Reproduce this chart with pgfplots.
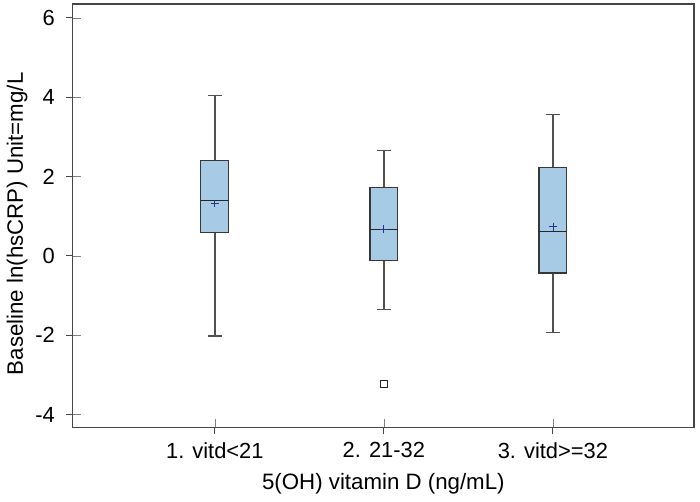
\documentclass[border=0pt]{standalone}
\usepackage{pgfplots}
\pgfplotsset{compat=1.18}
\usepgfplotslibrary{statistics}
\usepackage{fontspec}
\setmainfont{Liberation Sans}
\definecolor{boxblue}{RGB}{167,202,229}
\definecolor{boxedge}{RGB}{55,55,55}
\definecolor{whisk}{RGB}{80,80,80}
\definecolor{meanc}{RGB}{40,50,140}
\definecolor{frame}{RGB}{70,70,70}
\begin{document}
\begin{tikzpicture}
\begin{axis}[
  scale only axis,
  width=312.5pt, height=213pt,
  xmin=0.159, xmax=3.835,
  ymin=-4.325, ymax=6.35,
  clip=false,
  xtick={1,2,3},
  xticklabels={{1. vitd<21},{2. 21-32},{3. vitd>=32}},
  ytick={-4,-2,0,2,4,6},
  minor tick num=0,
  axis line style={draw=frame, line width=0.6pt},
  tick pos=left,
  /pgf/number format/assume math mode=true,
  ticklabel style={font=\fontsize{11}{13}\selectfont},
  xticklabel style={yshift=-4pt},
  yticklabel style={xshift=-5.5pt},
  label style={font=\fontsize{11.2}{13}\selectfont},
  xlabel={5(OH) vitamin D (ng/mL)},
  ylabel={Baseline ln(hsCRP) Unit=mg/L},
  xlabel style={at={(axis description cs:0.5,-0.134)}, anchor=center},
  ylabel style={at={(axis description cs:-0.0896,0.481)}, anchor=center},
  boxplot/draw direction=y,
  boxplot/every box/.style={fill=boxblue, draw=boxedge, line width=0.6pt},
  boxplot/every whisker/.style={draw=whisk, line width=0.75pt},
  boxplot/every median/.style={draw=black!85, line width=0.6pt},
  boxplot/every average/.style={/tikz/mark=+, /tikz/mark size=2pt, /utils/exec={\pgfsetcolor{meanc}}, /tikz/line width=0.5pt},
]
\coordinate (sw) at (rel axis cs:0,0);
\coordinate (ne) at (rel axis cs:1,1);
\pgfplotsinvokeforeach{1,2,3}{\draw[frame, line width=0.6pt] (axis cs:#1,-4.325) -- ([yshift=-3.2pt]axis cs:#1,-4.325);}
\pgfplotsinvokeforeach{-4,-2,0,2,4,6}{\draw[frame, line width=0.6pt] (axis cs:0.159,#1) -- ([xshift=-3.2pt]axis cs:0.159,#1);}
\addplot[boxplot prepared={draw position=1, lower whisker=-2.02, lower quartile=0.58, median=1.40, upper quartile=2.40, upper whisker=4.04, average=1.32, box extend=0.165, whisker extend=0.085}] coordinates {};
\addplot[boxplot prepared={draw position=2, lower whisker=-1.35, lower quartile=-0.11, median=0.675, upper quartile=1.73, upper whisker=2.66, average=0.67, box extend=0.165, whisker extend=0.085}, mark=square, mark size=1.8pt, mark options={draw=black!85, fill=white, line width=0.5pt}] coordinates {(0,-3.22)};
\addplot[boxplot prepared={draw position=3, lower whisker=-1.93, lower quartile=-0.43, median=0.61, upper quartile=2.23, upper whisker=3.56, average=0.74, box extend=0.165, whisker extend=0.085}] coordinates {};
\end{axis}
\path ([shift={(-34.5pt,-37pt)}]sw) rectangle ([shift={(3pt,2pt)}]ne);
\end{tikzpicture}
\end{document}
